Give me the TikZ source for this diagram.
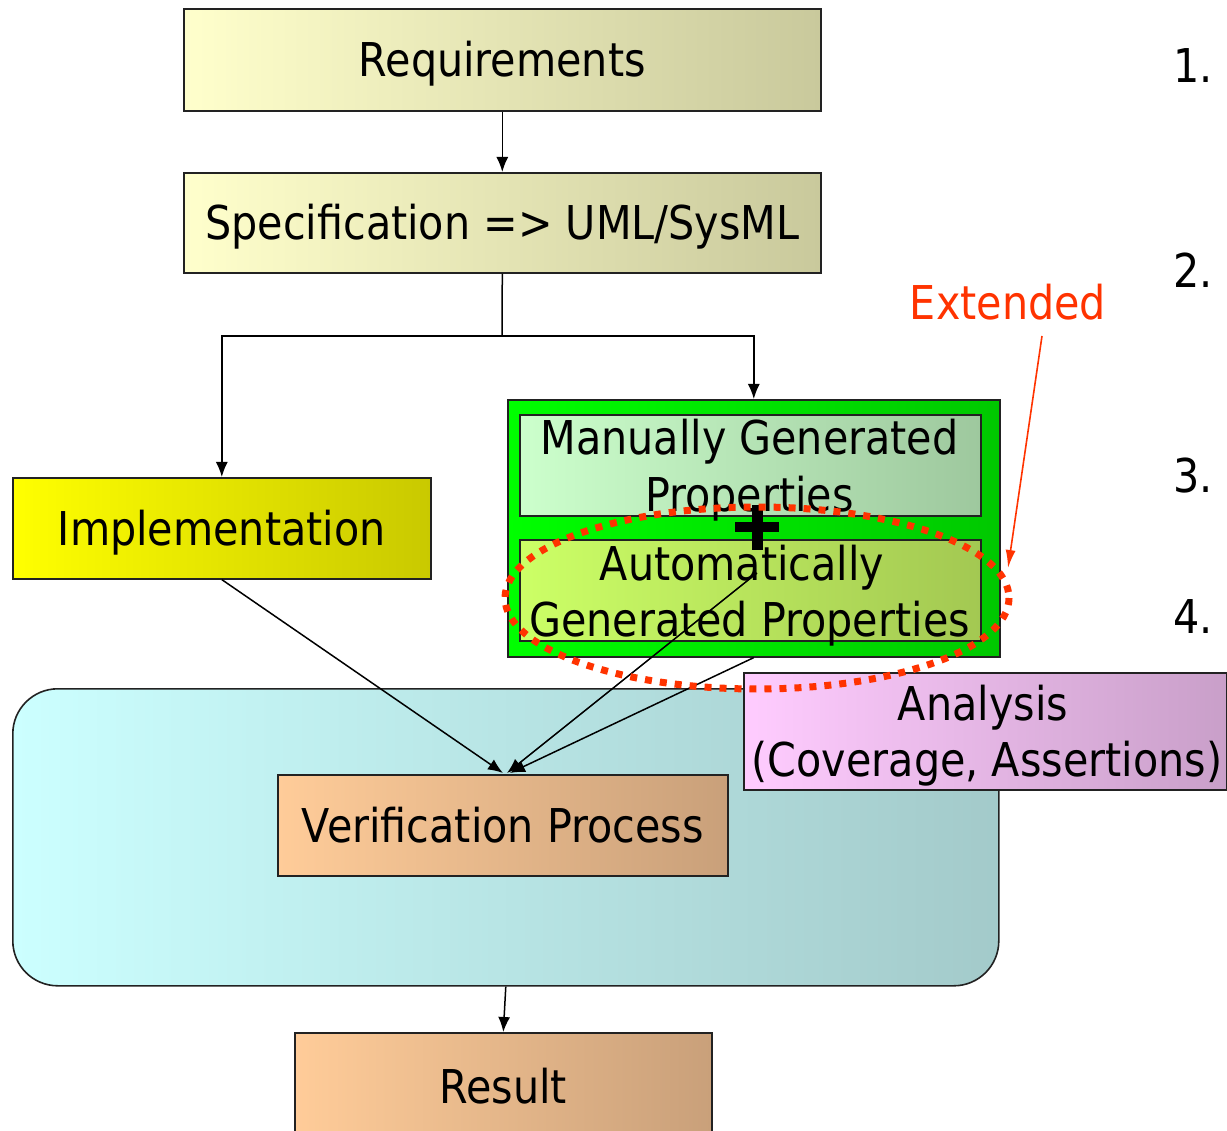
\documentclass[tikz,border=0pt]{standalone}
\usepackage{fontspec}
\setmainfont[FakeStretch=0.886]{DejaVu Sans}
\usetikzlibrary{arrows.meta}
\definecolor{reqL}{HTML}{FFFFCC}
\definecolor{reqR}{HTML}{C9C99C}
\definecolor{impL}{HTML}{FFFF00}
\definecolor{impR}{HTML}{C9C900}
\definecolor{grnL}{HTML}{00FF00}
\definecolor{grnR}{HTML}{00C800}
\definecolor{manL}{HTML}{CCFFCC}
\definecolor{manR}{HTML}{9EC89E}
\definecolor{autL}{HTML}{CCFF66}
\definecolor{autR}{HTML}{A3C852}
\definecolor{verL}{HTML}{CCFFFF}
\definecolor{verR}{HTML}{A3CACA}
\definecolor{vpL}{HTML}{FFCC99}
\definecolor{vpR}{HTML}{C9A07A}
\definecolor{anaL}{HTML}{FFCCFF}
\definecolor{anaR}{HTML}{C99FC9}
\definecolor{redx}{HTML}{FF3300}
\definecolor{bord}{HTML}{222222}
\tikzset{
  box/.style={draw=bord, line width=1.6pt, inner sep=0pt, anchor=north west,
    font=\fontsize{46.6}{56}\selectfont, text height=34pt, text depth=0pt},
  txt/.style={inner sep=0pt, anchor=base, font=\fontsize{46.6}{56}\selectfont},
  arr/.style={-{Latex[length=15pt,width=12pt]}, line width=1.5pt},
  conn/.style={line width=1.5pt},
}
\begin{document}
\begin{tikzpicture}[x=1pt,y=-1pt]
\clip (0,0) rectangle (1227,1131);
\fill[white] (0,0) rectangle (1227,1131);
% main boxes
\node[box, left color=reqL, right color=reqR, minimum width=637pt, minimum height=102pt] (req) at (183,8) {Requirements};
\node[box, left color=reqL, right color=reqR, minimum width=637pt, minimum height=100pt] (spec) at (183,172) {Specification => UML/SysML};
\node[box, left color=impL, right color=impR, minimum width=418pt, minimum height=101pt] (impl) at (12,477) {Implementation};
\node[box, rounded corners=45pt, left color=verL, right color=verR, minimum width=986pt, minimum height=297pt] (verif) at (12,688) {};
\node[box, left color=vpL, right color=vpR, minimum width=450pt, minimum height=101pt] (vp) at (277,774) {Verification Process};
\node[box, left color=vpL, right color=vpR, minimum width=417pt, minimum height=108pt] (res) at (294,1032) {Result};
% properties group
\node[box, left color=grnL, right color=grnR, minimum width=492pt, minimum height=257pt] (grn) at (507,399) {};
\node[box, left color=manL, right color=manR, minimum width=461pt, minimum height=101pt] (man) at (519,414) {};
\node[box, left color=autL, right color=autR, minimum width=461pt, minimum height=101pt] (aut) at (519,539) {};
\node[txt] (man1) at (749.5,455) {Manually Generated};
\node[txt] (man2) at (749.5,511.5) {Properties};
\node[txt] (aut1) at (742,580) {Automatically};
\node[txt] (aut2) at (749.5,636.5) {Generated Properties};
% plus sign
\draw[line width=10pt] (735,527) -- (779,527);
\draw[line width=11pt] (757.5,505) -- (757.5,550);
% connectors
\coordinate (split) at (502,336);
\coordinate (autsrc) at (757,573);
\draw[arr] (req.south) -- (spec.north);
\draw[conn] (spec.south) -- (split);
\draw[arr] (split) -| (impl.north);
\draw[arr] (split) -| (grn.north);
\draw[arr] (impl.south) -- (503,773);
\draw[arr] (autsrc) -- (507,773);
\draw[arr] (grn.south) -- (510,773);
\draw[arr] (verif.south) -- (res.north);
% analysis
\node[box, left color=anaL, right color=anaR, minimum width=483pt, minimum height=117pt] (ana) at (743,672) {};
\node[txt] (ana1) at (983,720) {Analysis};
\node[txt] (ana2) at (987,776) {(Coverage, Assertions)};
% extended ellipse
\draw[redx, line width=7pt, dash pattern=on 7pt off 8pt] (757,598) ellipse [x radius=252, y radius=91];
\node[txt, text=redx] (ext) at (1008,320) {Extended};
\coordinate (extsrc) at (1042,336);
\draw[redx, line width=1.6pt, -{Latex[length=18pt,width=10pt]}] (extsrc) -- (1008,568);
% numbers
\node[txt, anchor=base east] (n1) at (1213,83) {1.};
\node[txt, anchor=base east] (n2) at (1213,288) {2.};
\node[txt, anchor=base east] (n3) at (1213,493) {3.};
\node[txt, anchor=base east] (n4) at (1213,633) {4.};
\end{tikzpicture}
\end{document}
